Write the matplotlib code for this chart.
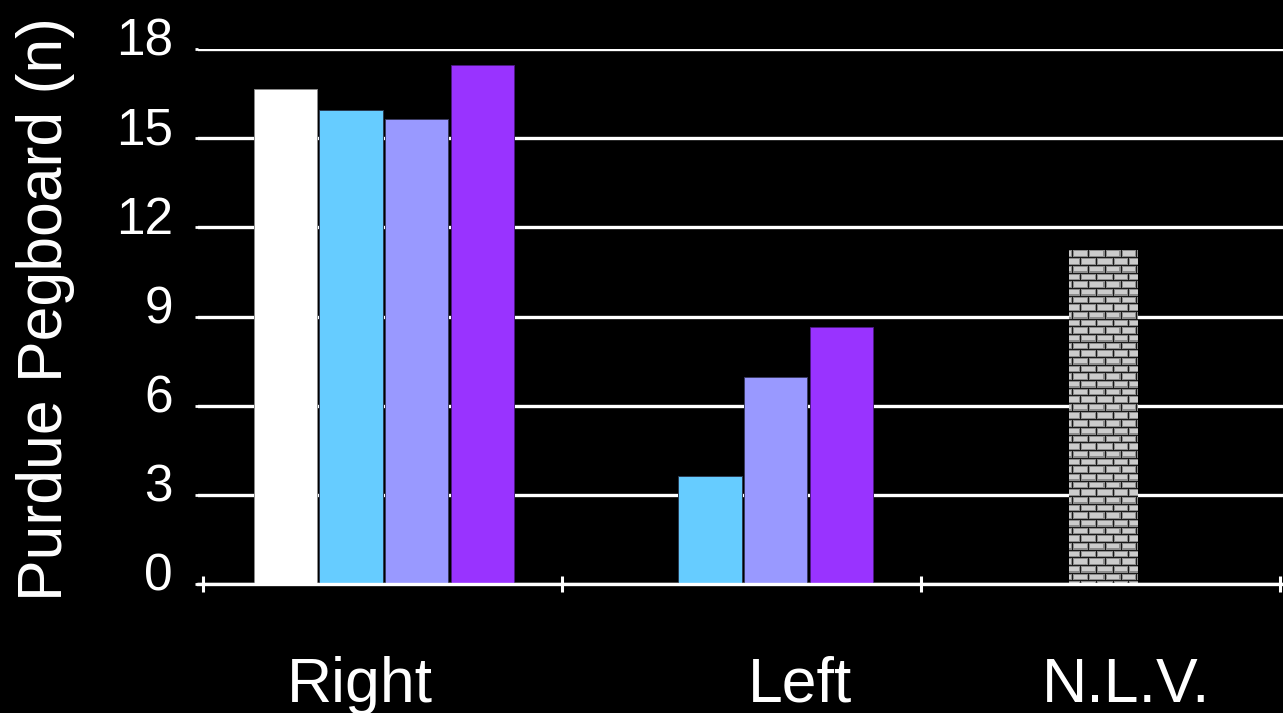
import numpy as np
import matplotlib
matplotlib.use("Agg")
import matplotlib.pyplot as plt
from matplotlib.transforms import ScaledTranslation

plt.rcParams["font.family"] = ["Liberation Sans", "DejaVu Sans"]

# ---- data ---------------------------------------------------------------
categories = ["Right", "Left", "N.L.V."]
series_white = [16.65, np.nan, np.nan]
series_cyan = [15.95, 3.65, np.nan]
series_lavender = [15.65, 6.95, np.nan]
series_purple = [17.45, 8.65, np.nan]
series_nlv = [np.nan, np.nan, 11.25]
y_ticks = [0, 3, 6, 9, 12, 15, 18]
y_label = "Purdue Pegboard (n)"

grouped = [series_white, series_cyan, series_lavender, series_purple]
colors = ["#FFFFFF", "#66CCFF", "#9999FF", "#9933FF"]
edges = ["#8a8a8a", "#2a3a50", "#3a3a60", "#4a1a80"]

# ---- figure -------------------------------------------------------------
W, H, DPI = 1283, 713, 100
fig = plt.figure(figsize=(W / DPI, H / DPI), dpi=DPI, facecolor="black")
ax_left, ax_right, ax_bottom, ax_top = 198, 1283, 584, 49
ax = fig.add_axes([ax_left / W, (H - ax_bottom) / H,
                   (ax_right - ax_left) / W, (ax_bottom - ax_top) / H])
ax.set_facecolor("black")

px_per_unit = 359.0
xlo = -0.5 - 5 / px_per_unit
xhi = xlo + (ax_right - ax_left) / px_per_unit

x = np.arange(len(categories))
slot = 0.183
bar_w = 0.176
offsets = (np.arange(len(grouped)) - (len(grouped) - 1) / 2) * slot
for vals, off, c, ec in zip(grouped, offsets, colors, edges):
    ax.bar(x + off + 0.004, vals, width=bar_w, color=c, edgecolor=ec,
           linewidth=0.7, zorder=3)

nlv_w = 0.19
nlv_bars = ax.bar(x + 0.007, series_nlv, width=nlv_w, color="#c8c8c8",
                  edgecolor="#202020", linewidth=0.7, zorder=3)

ax.set_xlim(xlo, xhi)
ax.set_ylim(0, 18)

# brick texture for the N.L.V. bar, clipped to the bar rectangle
def brick_texture(hpx, wpx, bw=15.7, bh=7.67):
    rr, cc = np.mgrid[0:hpx, 0:wpx].astype(float)
    row = np.floor(rr / bh)
    yin = rr - row * bh
    shift = np.where(row % 2 == 1, bw / 2, 0.0)
    xin = (cc + shift - 3) % bw
    img = np.full((hpx, wpx, 3), 0.80)
    border = (yin < 2.0) | (yin > bh - 1.2) | (xin < 2.0) | (xin > bw - 1.2)
    img[border] = 0.55
    mortar = (yin < 1.0) | (xin < 1.0)
    img[mortar] = 0.10
    return img

for rect, v in zip(nlv_bars, series_nlv):
    if np.isnan(v):
        continue
    x0 = rect.get_x()
    x1 = x0 + rect.get_width()
    (dx0, dy0) = ax.transData.transform((x0, 0))
    (dx1, dy1) = ax.transData.transform((x1, v))
    tex = brick_texture(int(round(dy1 - dy0)), int(round(dx1 - dx0)))
    im = ax.imshow(tex, extent=[x0, x1, 0, v], origin="upper",
                   interpolation="nearest", aspect="auto", zorder=4)
    im.set_clip_path(rect)

ax.set_xlim(xlo, xhi)
ax.set_ylim(0, 18)

# gridlines
ax.set_yticks(y_ticks)
ax.yaxis.grid(True, color="white", linewidth=2.4, zorder=1)
ax.set_axisbelow(True)
ax.tick_params(axis="y", length=2, width=2, color="white", labelleft=False)

# x axis line and category boundary ticks
for s in ["top", "right", "left"]:
    ax.spines[s].set_visible(False)
ax.spines["bottom"].set_color("white")
ax.spines["bottom"].set_linewidth(2.4)
ax.spines["bottom"].set_zorder(5)
ax.set_xticks(np.arange(-0.5, len(categories), 1.0))
ax.tick_params(axis="x", direction="inout", length=12, width=2.2,
               color="white", labelbottom=False)

# y tick labels, nudged slightly above their gridlines
up = ScaledTranslation(0, 7 / DPI, fig.dpi_scale_trans)
for t in y_ticks:
    ax.text(-25 / (ax_right - ax_left), t, str(t),
            transform=ax.get_yaxis_transform() + up,
            ha="right", va="center", color="white", fontsize=37)

# category labels
label_x = [-0.064, 1.163, 2.071]
for lx, name in zip(label_x, categories):
    ax.text(lx, (ax_bottom - 702) / (ax_bottom - ax_top), name,
            transform=ax.get_xaxis_transform(), ha="center", va="baseline",
            color="white", fontsize=45)

fig.text(46 / W, (H - 309) / H, y_label, rotation=90, ha="center",
         va="center", color="white", fontsize=45)

fig.savefig("out.png", dpi=DPI, facecolor="black")
